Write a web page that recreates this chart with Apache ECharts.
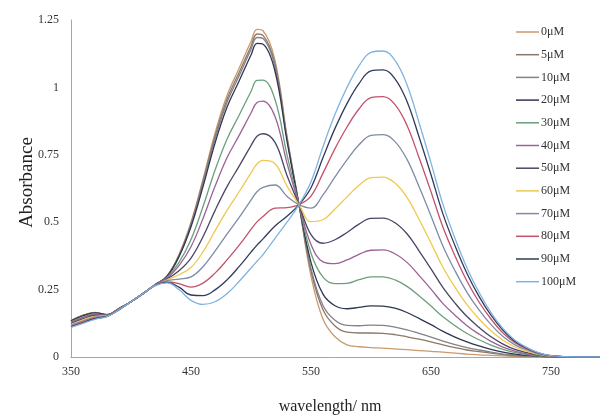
<!DOCTYPE html>
<html>
<head>
<meta charset="utf-8">
<script src="https://cdn.jsdelivr.net/npm/echarts@6/dist/echarts.min.js"></script>
<style>
  html, body { margin: 0; padding: 0; background: #fff; }
  #main { width: 600px; height: 417px; }
</style>
</head>
<body>
<div id="main"></div>
<script>
// wavelength (nm)
const wavelengths = [350, 360, 370, 380, 390, 400, 410, 420, 430, 440, 450, 460, 470, 480, 490, 500, 505, 510, 520, 530, 540,
  550, 560, 570, 580, 590, 600, 610, 620, 630, 640, 650, 660, 670, 680, 690, 700, 710, 720, 730, 740, 750, 770, 800];

const seriesNames = ['0μM', '5μM', '10μM', '20μM', '30μM', '40μM', '50μM', '60μM', '70μM', '80μM', '90μM', '100μM'];

const abs0 = [.135, .155, .165, .157, .18, .205, .235, .268, .30, .38, .50, .66, .83, .97, 1.07, 1.17, 1.215, 1.21, 1.10, .82, .565,
  .30, .14, .075, .045, .038, .035, .033, .03, .027, .024, .021, .018, .014, .011, .008, .006, .004, .002, .001, .001, 0, 0, 0];
const abs5 = [.134, .154, .164, .157, .18, .205, .235, .268, .30, .377, .494, .651, .818, .955, 1.054, 1.153, 1.198, 1.193, 1.087, .814, .565,
  .319, .175, .115, .092, .089, .089, .088, .083, .075, .066, .056, .045, .035, .026, .020, .014, .009, .005, .003, .002, 0, 0, 0];
const abs10 = [.134, .154, .164, .157, .18, .205, .235, .268, .299, .375, .490, .644, .808, .944, 1.042, 1.141, 1.185, 1.181, 1.077, .809, .565,
  .328, .191, .136, .117, .116, .118, .117, .111, .101, .088, .074, .059, .046, .035, .026, .018, .011, .007, .004, .002, 0, 0, 0];
const abs20 = [.134, .153, .164, .157, .18, .205, .235, .268, .299, .372, .483, .632, .793, .926, 1.023, 1.120, 1.163, 1.160, 1.060, .801, .565,
  .351, .233, .190, .179, .184, .190, .189, .181, .165, .143, .120, .095, .074, .056, .041, .028, .018, .011, .006, .003, .001, 0, 0];
const abs30 = [.130, .148, .160, .155, .179, .205, .235, .267, .295, .351, .436, .558, .693, .808, .896, .985, 1.026, 1.027, .955, .750, .565,
  .385, .296, .272, .273, .287, .297, .297, .286, .262, .227, .189, .149, .116, .087, .064, .044, .028, .017, .009, .004, .001, 0, 0];
const abs40 = [.127, .146, .157, .155, .178, .205, .235, .267, .292, .339, .409, .514, .633, .739, .821, .905, .944, .949, .892, .719, .565,
  .417, .353, .346, .360, .381, .396, .397, .383, .351, .303, .252, .198, .155, .116, .085, .058, .037, .022, .012, .006, .002, 0, 0];
const abs50 = [.124, .141, .154, .154, .178, .205, .235, .267, .289, .320, .367, .446, .543, .632, .707, .784, .819, .828, .796, .673, .565,
  .454, .422, .435, .462, .493, .514, .515, .498, .457, .394, .327, .257, .200, .150, .110, .075, .048, .028, .016, .007, .002, 0, 0];
const abs60 = [.121, .138, .151, .153, .177, .205, .235, .266, .286, .305, .332, .390, .468, .544, .612, .683, .716, .729, .717, .634, .565,
  .502, .509, .549, .594, .637, .665, .667, .645, .592, .511, .423, .332, .259, .194, .141, .097, .062, .037, .021, .009, .003, 0, 0];
const abs70 = [.118, .134, .148, .152, .177, .205, .235, .266, .283, .289, .297, .335, .393, .456, .517, .582, .613, .629, .638, .596, .565,
  .552, .601, .668, .731, .787, .822, .825, .799, .733, .632, .523, .411, .320, .240, .175, .120, .076, .045, .026, .011, .004, 0, 0];
const abs80 = [.114, .130, .144, .151, .176, .205, .235, .266, .279, .272, .259, .274, .311, .360, .414, .473, .501, .521, .552, .554, .565,
  .597, .682, .773, .853, .920, .962, .966, .936, .859, .740, .613, .481, .375, .281, .204, .141, .089, .053, .030, .013, .004, 0, 0];
const abs90 = [.112, .127, .142, .151, .175, .205, .235, .265, .277, .259, .230, .228, .249, .286, .335, .389, .415, .438, .486, .522, .565,
  .628, .740, .848, .940, 1.014, 1.061, 1.065, 1.032, .948, .817, .676, .530, .413, .310, .225, .155, .099, .058, .033, .014, .005, 0, 0];
const abs100 = [.11, .125, .14, .15, .175, .205, .235, .265, .275, .25, .21, .195, .205, .235, .28, .33, .355, .38, .44, .50, .565,
  .65, .78, .90, 1.00, 1.08, 1.13, 1.135, 1.10, 1.01, .87, .72, .565, .44, .33, .24, .165, .105, .062, .035, .015, .005, 0, 0];

const allValues = [abs0, abs5, abs10, abs20, abs30, abs40, abs50, abs60, abs70, abs80, abs90, abs100];
const colors = ['#c99a6e', '#8d7767', '#82828a', '#2f3652', '#6b9f7c', '#9c6196', '#4a4566',
  '#f0c84e', '#7f8ca6', '#c2526c', '#303b5b', '#80b3e0'];

const xTicks = [350, 450, 550, 650, 750];
const yTicks = [0, 0.25, 0.5, 0.75, 1, 1.25];

const serif = 'Liberation Serif';

let myChart = echarts.init(document.getElementById('main'));

let option = {
  animation: false,
  color: colors,
  grid: { left: 71, right: -11, top: 20, bottom: 60, outerBoundsMode: 'none' },
  legend: {
    orient: 'vertical',
    left: 511,
    top: 21,
    icon: 'rect',
    itemWidth: 23,
    itemHeight: 1.5,
    itemGap: 10.7,
    data: seriesNames,
    textStyle: { fontFamily: serif, fontSize: 12, color: '#333', padding: [0, 0, 0, -3] }
  },
  xAxis: {
    type: 'value',
    min: 350,
    max: 800,
    interval: 100,
    name: 'wavelength/ nm',
    nameLocation: 'middle',
    nameGap: 42,
    nameMoveOverlap: false,
    nameTextStyle: { fontFamily: serif, fontSize: 16, color: '#222', padding: [0, 22, 0, 0] },
    axisLine: { lineStyle: { color: '#a6a6a6', width: 1 } },
    axisTick: { show: false },
    splitLine: { show: false },
    axisLabel: {
      fontFamily: serif, fontSize: 12, color: '#333', margin: 9,
      formatter: v => (xTicks.indexOf(v) >= 0 ? String(v) : '')
    }
  },
  yAxis: {
    type: 'value',
    min: 0,
    max: 1.25,
    interval: 0.25,
    name: 'Absorbance',
    nameLocation: 'middle',
    nameGap: 34,
    nameMoveOverlap: false,
    nameTextStyle: { fontFamily: serif, fontSize: 19, color: '#222', padding: [0, 0, 0, 12] },
    axisLine: { show: true, lineStyle: { color: '#a6a6a6', width: 1 } },
    axisTick: { show: false },
    splitLine: { show: false },
    axisLabel: {
      fontFamily: serif, fontSize: 12, color: '#333', margin: 12,
      formatter: v => (yTicks.indexOf(v) >= 0 ? String(v) : '')
    }
  },
  series: seriesNames.map((name, i) => ({
    name: name,
    type: 'line',
    smooth: 0.4,
    showSymbol: false,
    symbol: 'none',
    lineStyle: { width: 1.3, color: colors[i] },
    itemStyle: { color: colors[i] },
    data: wavelengths.map((w, k) => [w, allValues[i][k]])
  }))
};

myChart.setOption(option);
</script>
</body>
</html>
